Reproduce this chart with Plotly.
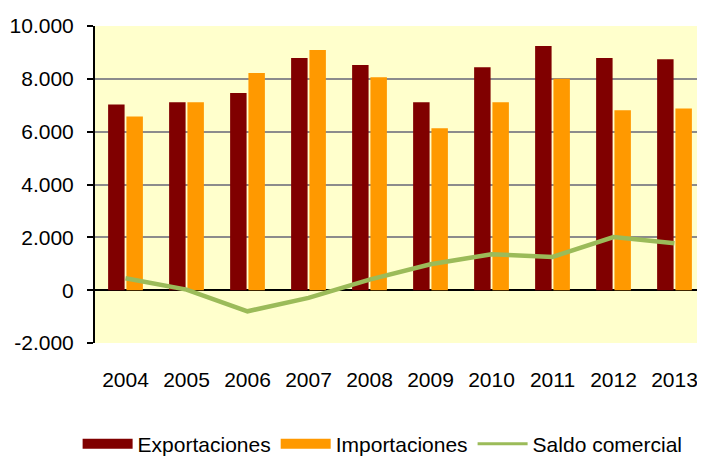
import plotly.graph_objects as go

years = ["2004", "2005", "2006", "2007", "2008", "2009", "2010", "2011", "2012", "2013"]
exportaciones = [7030, 7110, 7460, 8790, 8520, 7110, 8440, 9240, 8790, 8740]
importaciones = [6570, 7110, 8220, 9090, 8060, 6130, 7110, 8000, 6810, 6880]
saldo = [450, 20, -800, -290, 400, 980, 1360, 1260, 2010, 1780]
y_ticks = [-2000, 0, 2000, 4000, 6000, 8000, 10000]
y_tick_labels = ["-2.000", "0", "2.000", "4.000", "6.000", "8.000", "10.000"]

c_exp = "#800000"
c_imp = "#FF9900"
c_sal = "#9BBB59"
font = "Liberation Sans, Arial, sans-serif"

fig = go.Figure()
fig.add_trace(go.Bar(x=years, y=exportaciones, name="Exportaciones",
                     marker=dict(color=c_exp, line=dict(width=0)), showlegend=False))
fig.add_trace(go.Bar(x=years, y=importaciones, name="Importaciones",
                     marker=dict(color=c_imp, line=dict(width=0)), showlegend=False))
fig.add_trace(go.Scatter(x=years, y=saldo, name="Saldo comercial", mode="lines",
                         line=dict(color=c_sal, width=4.5), showlegend=False))
# legend entries
fig.add_trace(go.Scatter(x=[None], y=[None], name="Exportaciones", mode="lines",
                         line=dict(color=c_exp, width=13)))
fig.add_trace(go.Scatter(x=[None], y=[None], name="Importaciones", mode="lines",
                         line=dict(color=c_imp, width=13)))
fig.add_trace(go.Scatter(x=[None], y=[None], name="Saldo comercial", mode="lines",
                         line=dict(color=c_sal, width=3)))

# the page body adds an 8px offset, so the figure is 8px smaller than the window
fig.update_layout(
    width=697, height=448,
    margin=dict(l=87, r=0, t=18, b=113, autoexpand=False),
    paper_bgcolor="white",
    plot_bgcolor="#FFFFCC",
    barmode="group",
    bargap=0.4,
    bargroupgap=0.1,
    font=dict(family=font, size=21, color="black"),
    legend=dict(orientation="h", x=-0.0285, xanchor="left", y=-0.319, yanchor="middle",
                font=dict(family=font, size=21, color="black"),
                itemwidth=50, traceorder="normal", bgcolor="rgba(0,0,0,0)"),
    xaxis=dict(showgrid=False, showline=False, ticks="", ticklabelstandoff=22,
               tickfont=dict(size=21), fixedrange=True, automargin=False),
    yaxis=dict(range=[-2000, 10000], tickvals=y_ticks, ticktext=y_tick_labels,
               showgrid=True, gridcolor="#8C8C8C", gridwidth=2,
               zeroline=True, zerolinecolor="black", zerolinewidth=2,
               showline=True, linecolor="black", linewidth=2,
               ticks="outside", ticklen=6, tickcolor="black", tickwidth=2,
               tickfont=dict(size=21), ticklabelstandoff=9, automargin=False),
)

fig.write_html("out.html")
